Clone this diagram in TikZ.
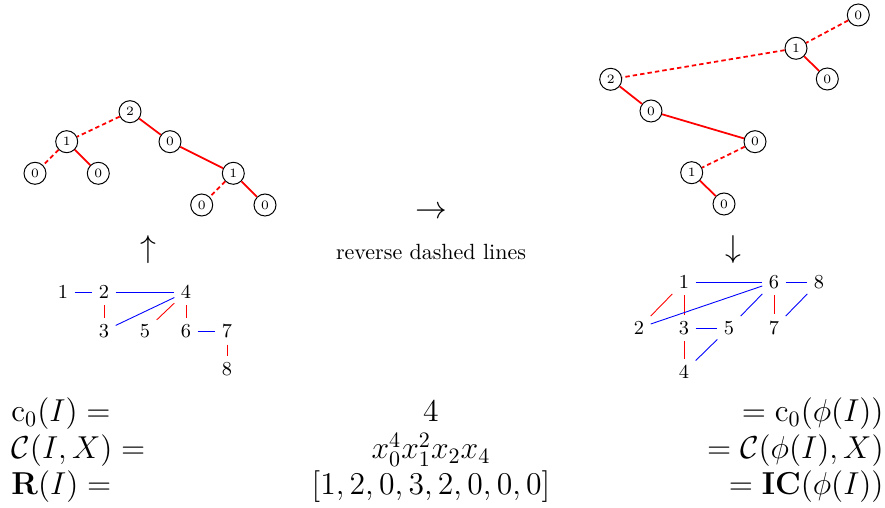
\documentclass[tikz,border=0pt]{standalone}
\usepackage{amsmath,amssymb}
\begin{document}
\begin{tikzpicture}[x=0.4545pt,y=-0.4545pt,
  tn/.style={circle,draw,line width=0.45pt,font=\fontsize{5.8}{7}\selectfont,minimum size=10pt,inner sep=0pt},
  te/.style={red,line width=0.8pt},
  tdash/.style={red,line width=0.8pt,dash pattern=on 2pt off 1.4pt},
  gl/.style={font=\small,inner sep=2.8pt},
  be/.style={blue,line width=0.4pt},
  re/.style={red,line width=0.4pt},
  eq/.style={font=\Large,inner sep=0pt}]
\useasboundingbox (0,0) rectangle (885,508);
% left tree
\node[tn] (a2) at (130,111.7) {2};
\node[tn] (a1) at (66.7,141.7) {1};
\node[tn] (a0) at (170,141.7) {0};
\node[tn] (a00) at (35,173.3) {0};
\node[tn] (a01) at (98.3,173.3) {0};
\node[tn] (a1b) at (233.3,173.3) {1};
\node[tn] (a10) at (201.7,205) {0};
\node[tn] (a11) at (265,205) {0};
\draw[tdash] (a2) -- (a1);
\draw[te] (a2) -- (a0);
\draw[tdash] (a1) -- (a00);
\draw[te] (a1) -- (a01);
\draw[te] (a0) -- (a1b);
\draw[tdash] (a1b) -- (a10);
\draw[te] (a1b) -- (a11);
% right tree
\node[tn] (b0t) at (858.3,15) {0};
\node[tn] (b1) at (796,48.3) {1};
\node[tn] (b10) at (827.3,79) {0};
\node[tn] (b2) at (610.7,79.3) {2};
\node[tn] (b0) at (651,111) {0};
\node[tn] (b0b) at (755,141.7) {0};
\node[tn] (b1b) at (691.7,172.7) {1};
\node[tn] (b1b0) at (724,204) {0};
\draw[tdash] (b0t) -- (b1);
\draw[te] (b1) -- (b10);
\draw[tdash] (b1) -- (b2);
\draw[te] (b2) -- (b0);
\draw[te] (b0) -- (b0b);
\draw[tdash] (b0b) -- (b1b);
\draw[te] (b1b) -- (b1b0);
% arrows and caption
\node[font=\Large] (up) at (148,250) {$\uparrow$};
\node[font=\Large] (ra) at (431,213) {$\rightarrow$};
\node (cap) at (431,252) {reverse dashed lines};
\node[font=\Large] (dn) at (733,250) {$\downarrow$};
% left graph
\node[gl] (g1) at (63,292) {1};
\node[gl] (g2) at (104,292) {2};
\node[gl] (g4) at (186,292) {4};
\node[gl] (g3) at (104,331) {3};
\node[gl] (g5) at (145,331) {5};
\node[gl] (g6) at (186,331) {6};
\node[gl] (g7) at (227,331) {7};
\node[gl] (g8) at (227,369) {8};
\draw[be] (g1) -- (g2);
\draw[be] (g2) -- (g4);
\draw[re] (g2) -- (g3);
\draw[be] (g4) -- (g3);
\draw[re] (g4) -- (g5);
\draw[re] (g4) -- (g6);
\draw[be] (g6) -- (g7);
\draw[re] (g7) -- (g8);
% right graph
\node[gl] (h1) at (684,282) {1};
\node[gl] (h6) at (774,282) {6};
\node[gl] (h8) at (819,282) {8};
\node[gl] (h2) at (639,328) {2};
\node[gl] (h3) at (684,328) {3};
\node[gl] (h5) at (729,328) {5};
\node[gl] (h7) at (774,328) {7};
\node[gl] (h4) at (684,372) {4};
\draw[be] (h1) -- (h6);
\draw[be] (h6) -- (h8);
\draw[re] (h1) -- (h3);
\draw[re] (h1) -- (h2);
\draw[be] (h2) -- (h6);
\draw[be] (h6) -- (h5);
\draw[re] (h6) -- (h7);
\draw[be] (h8) -- (h7);
\draw[be] (h3) -- (h5);
\draw[re] (h3) -- (h4);
\draw[be] (h5) -- (h4);
% equations
\node[eq,anchor=base west] (l1) at (11,422) {$\mathrm{c}_0(I) =$};
\node[eq,anchor=base] (m1) at (431,422) {$4$};
\node[eq,anchor=base east] (r1) at (884,422) {$= \mathrm{c}_0(\phi(I))$};
\node[eq,anchor=base west] (l2) at (11,459) {$\mathcal{C}(I,X) =$};
\node[eq,anchor=base] (m2) at (431,459) {$x_0^4x_1^2x_2x_4$};
\node[eq,anchor=base east] (r2) at (884,459) {$= \mathcal{C}(\phi(I),X)$};
\node[eq,anchor=base west] (l3) at (11,495) {$\mathbf{R}(I) =$};
\node[eq,anchor=base] (m3) at (431,495) {$[1,2,0,3,2,0,0,0]$};
\node[eq,anchor=base east] (r3) at (884,495) {$= \mathbf{IC}(\phi(I))$};
\end{tikzpicture}
\end{document}
